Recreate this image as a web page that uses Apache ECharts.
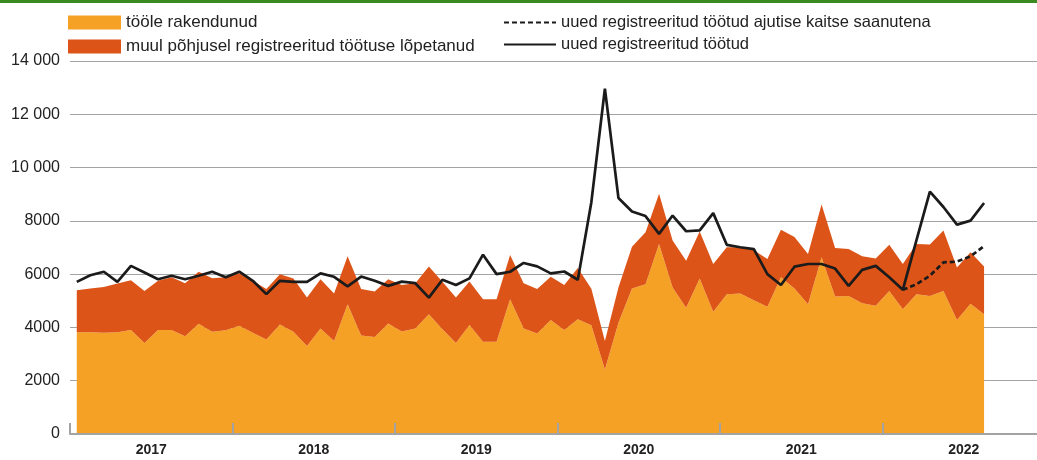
<!DOCTYPE html>
<html>
<head>
<meta charset="utf-8">
<script src="https://cdn.jsdelivr.net/npm/echarts@6/dist/echarts.min.js"></script>
<style>
  html, body { margin: 0; padding: 0; background: #fff; }
  #main { width: 1037px; height: 460px; }
</style>
</head>
<body>
<div id="main"></div>
<script>
// aastad (x-telje sildid)
const years = ['2017', '2018', '2019', '2020', '2021', '2022']
const months = ['01', '02', '03', '04', '05', '06', '07', '08', '09', '10', '11', '12']

// igakuised andmed jaan 2017 - aug 2022
const rakendunud = [
  3820, 3820, 3800, 3820, 3900, 3420, 3900, 3900, 3670, 4140, 3840, 3890,
  4060, 3800, 3550, 4110, 3840, 3300, 3960, 3490, 4870, 3700, 3640, 4150,
  3850, 3960, 4490, 3930, 3420, 4090, 3460, 3460, 5060, 3960, 3770, 4280,
  3900, 4310, 4080, 2420, 4180, 5460, 5620, 7130, 5500, 4740, 5840, 4590,
  5250, 5270, 5020, 4780, 5880, 5460, 4870, 6630, 5160, 5180, 4910, 4810,
  5370, 4680, 5250, 5180, 5370, 4280, 4890, 4490
]
const muulPohjusel = [
  1580, 1640, 1720, 1830, 1870, 1950, 1850, 1980, 1990, 1950, 2010, 1990,
  1970, 1950, 1890, 1890, 2000, 1820, 1850, 1780, 1800, 1740, 1710, 1660,
  1740, 1700, 1800, 1780, 1700, 1630, 1600, 1600, 1660, 1700, 1670, 1620,
  1690, 1920, 1370, 1070, 1320, 1570, 1950, 1890, 1760, 1760, 1760, 1790,
  1760, 1740, 1880, 1790, 1790, 1930, 1890, 1980, 1820, 1760, 1760, 1780,
  1730, 1700, 1880, 1930, 2270, 1970, 1930, 1800
]
const uuedTootud = [
  5710, 5960, 6090, 5710, 6310, 6060, 5810, 5940, 5810, 5940, 6090, 5880,
  6090, 5750, 5250, 5750, 5710, 5710, 6030, 5900, 5540, 5910, 5750, 5560,
  5720, 5660, 5120, 5790, 5590, 5840, 6730, 6000, 6090, 6420, 6290, 6030,
  6100, 5790, 8700, 12960, 8860, 8350, 8180, 7510, 8200, 7610, 7640, 8290,
  7100, 7010, 6940, 6000, 5590, 6280, 6380, 6380, 6210, 5560, 6160, 6310,
  5880, 5410, 7260, 9100, 8520, 7860, 8010, 8670
]
// ajutise kaitse saanutena (alates nov 2021)
const kaitseAlgus = 61
const ajutiseKaitse = [5410, 5620, 5940, 6440, 6470, 6670, 7050]

const FONT = '"Liberation Sans", Arial, Helvetica, sans-serif'
const ORANGE = '#f4a126'
const RED = '#dd5418'
const BLACK = '#1b1b1b'
const GREY = '#a3a3a3'

// kuud kategooriateks (kogu 2022 teljel, andmed kuni augustini)
const categories = []
years.forEach(y => months.forEach(m => categories.push(y + '-' + m)))
const kaitseSeeria = new Array(kaitseAlgus).fill(null).concat(ajutiseKaitse)

const fmtY = (v) => v >= 10000 ? String(v).replace(/\B(?=(\d{3})+(?!\d))/g, ' ') : String(v)

const chart = echarts.init(document.getElementById('main'))

chart.setOption({
  animation: false,
  textStyle: { fontFamily: FONT },
  graphic: [
    { type: 'rect', left: 0, top: 0, shape: { width: 1037, height: 3 }, style: { fill: '#3a8a22' } }
  ],
  legend: [
    {
      left: 68, top: 14, orient: 'vertical', padding: 0,
      itemWidth: 53, itemHeight: 14, itemGap: 7,
      textStyle: { fontSize: 17, lineHeight: 14, color: '#222', fontFamily: FONT },
      data: [
        { name: 'tööle rakendunud', icon: 'rect' },
        { name: 'muul põhjusel registreeritud töötuse lõpetanud', icon: 'rect' }
      ]
    },
    {
      left: 503, top: 14, orient: 'vertical', padding: 0,
      itemWidth: 52, itemHeight: 14, itemGap: 5,
      itemStyle: { opacity: 0 },
      textStyle: { fontSize: 16.5, lineHeight: 14, color: '#222', fontFamily: FONT },
      data: ['uued registreeritud töötud ajutise kaitse saanutena', 'uued registreeritud töötud']
    }
  ],
  // telg ulatub 2022. aasta lõpuni, osa jääb pildist välja
  grid: { left: 70, width: 975, top: 61, bottom: 26, outerBoundsMode: 'none', containLabel: false },
  xAxis: [
    {
      type: 'category', data: categories, boundaryGap: true, z: 10,
      axisLine: { show: true, lineStyle: { color: GREY, width: 2 } },
      axisTick: { show: true, inside: true, length: 11, interval: 11, lineStyle: { color: GREY, width: 2 } },
      axisLabel: { show: false },
      splitLine: { show: false }
    },
    {
      // ainult aastasildid aasta keskel
      type: 'value', min: 0, max: 72, interval: 6, position: 'bottom',
      axisLine: { show: false },
      axisTick: { show: false },
      splitLine: { show: false },
      axisLabel: {
        margin: 9, fontSize: 14, fontWeight: 'bold', color: '#222', fontFamily: FONT,
        formatter: (v) => (v % 12 === 6 ? years[(v - 6) / 12] : '')
      }
    }
  ],
  yAxis: {
    type: 'value', min: 0, max: 14000, interval: 2000,
    axisLine: { show: false },
    axisTick: { show: false },
    splitLine: { lineStyle: { color: GREY, width: 1 } },
    axisLabel: { margin: 10, fontSize: 16, color: '#222', fontFamily: FONT, formatter: fmtY }
  },
  series: [
    {
      name: 'tööle rakendunud', type: 'line', stack: 'kokku',
      data: rakendunud, symbol: 'none',
      itemStyle: { color: ORANGE },
      lineStyle: { width: 0 },
      areaStyle: { color: ORANGE, opacity: 1 }
    },
    {
      name: 'muul põhjusel registreeritud töötuse lõpetanud', type: 'line', stack: 'kokku',
      data: muulPohjusel, symbol: 'none',
      itemStyle: { color: RED },
      lineStyle: { width: 0 },
      areaStyle: { color: RED, opacity: 1 }
    },
    {
      name: 'uued registreeritud töötud ajutise kaitse saanutena', type: 'line',
      data: kaitseSeeria, symbol: 'none',
      itemStyle: { color: BLACK },
      lineStyle: { color: BLACK, width: 2.7, type: [5, 3] }
    },
    {
      name: 'uued registreeritud töötud', type: 'line',
      data: uuedTootud, symbol: 'none',
      itemStyle: { color: BLACK },
      lineStyle: { color: BLACK, width: 2.7 }
    }
  ]
})
</script>
</body>
</html>
